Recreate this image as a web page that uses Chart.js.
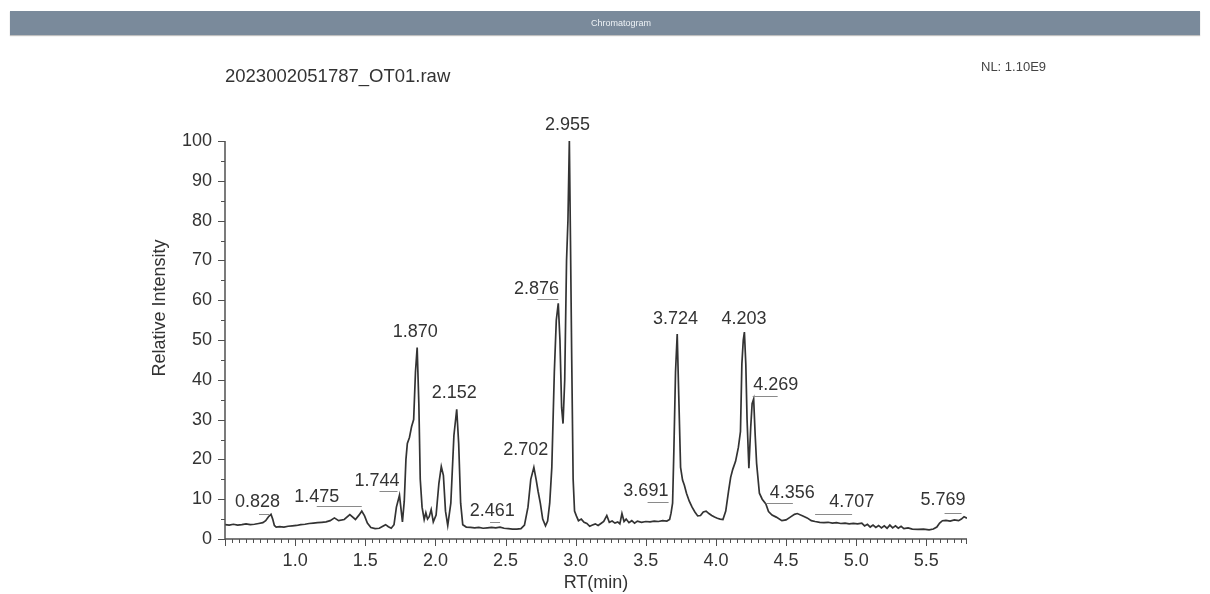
<!DOCTYPE html>
<html>
<head>
<meta charset="utf-8">
<script src="https://cdn.jsdelivr.net/npm/chart.js@4.4.1/dist/chart.umd.min.js"></script>
<style>
  html, body { margin: 0; padding: 0; background: #fff; width: 1210px; height: 594px; overflow: hidden;
               font-family: "Liberation Sans", Arial, sans-serif; }
  #bar { position: absolute; left: 10px; top: 11px; width: 1190px; height: 24px; background: #7a8a9b;
         color: #eef2f6; font-size: 9px; line-height: 24px; text-align: center; box-sizing: border-box;
         padding-left: 32px; box-shadow: 0 1px 1px rgba(0,0,0,0.25); z-index: 2; }
  #c { position: absolute; left: 0; top: 0; }
</style>
</head>
<body>
<div id="bar">Chromatogram</div>
<canvas id="c" width="1210" height="594"></canvas>
<script>
// Total ion chromatogram: retention time (min) vs relative intensity (%)
const retentionTime = [
  0.50, 0.53, 0.56, 0.59, 0.62, 0.65, 0.68, 0.71, 0.74, 0.77, 0.79, 0.81, 0.828, 0.84, 0.852, 0.865,
  0.89, 0.92, 0.95, 0.98, 1.01, 1.04, 1.07, 1.10, 1.13, 1.16, 1.19, 1.22, 1.25, 1.28, 1.31, 1.35,
  1.39, 1.43, 1.455, 1.475, 1.495, 1.515, 1.54, 1.57, 1.60, 1.625, 1.645, 1.665, 1.685, 1.705, 1.722, 1.744,
  1.755, 1.765, 1.778, 1.79, 1.80, 1.815, 1.83, 1.845, 1.858, 1.870, 1.882, 1.892, 1.905, 1.92, 1.932, 1.944,
  1.956, 1.97, 1.985, 2.005, 2.025, 2.042, 2.057, 2.072, 2.088, 2.11, 2.132, 2.152, 2.166, 2.18, 2.195, 2.22,
  2.25, 2.28, 2.31, 2.34, 2.37, 2.40, 2.43, 2.461, 2.49, 2.52, 2.55, 2.58, 2.61, 2.635, 2.66, 2.68,
  2.702, 2.718, 2.732, 2.748, 2.765, 2.785, 2.80, 2.815, 2.83, 2.848, 2.862, 2.876, 2.888, 2.90, 2.91, 2.922,
  2.935, 2.945, 2.955, 2.963, 2.972, 2.982, 2.992, 3.005, 3.02, 3.04, 3.06, 3.08, 3.10, 3.12, 3.14, 3.16,
  3.18, 3.20, 3.222, 3.24, 3.26, 3.28, 3.30, 3.315, 3.33, 3.345, 3.36, 3.38, 3.40, 3.42, 3.44, 3.47,
  3.50, 3.53, 3.56, 3.59, 3.62, 3.65, 3.67, 3.68, 3.691, 3.70, 3.712, 3.724, 3.735, 3.748, 3.762, 3.775,
  3.79, 3.81, 3.83, 3.85, 3.87, 3.89, 3.91, 3.93, 3.95, 3.97, 3.99, 4.01, 4.03, 4.05, 4.07, 4.09,
  4.105, 4.12, 4.14, 4.16, 4.175, 4.185, 4.195, 4.203, 4.213, 4.222, 4.235, 4.248, 4.258, 4.269, 4.28, 4.29,
  4.31, 4.33, 4.356, 4.375, 4.40, 4.43, 4.47, 4.50, 4.53, 4.56, 4.58, 4.62, 4.65, 4.68, 4.707, 4.74,
  4.77, 4.80, 4.83, 4.86, 4.89, 4.92, 4.95, 4.98, 5.01, 5.04, 5.06, 5.08, 5.10, 5.12, 5.14, 5.16,
  5.18, 5.20, 5.22, 5.24, 5.26, 5.28, 5.30, 5.32, 5.34, 5.37, 5.40, 5.44, 5.48, 5.52, 5.55, 5.575,
  5.595, 5.615, 5.64, 5.67, 5.70, 5.73, 5.75, 5.769, 5.79
];
const relativeIntensity = [
  3.6, 3.5, 3.7, 3.5, 3.6, 3.8, 3.6, 3.7, 3.9, 4.1, 4.6, 5.6, 6.2, 5.0, 3.4, 3.0,
  3.1, 3.0, 3.2, 3.3, 3.4, 3.6, 3.7, 3.9, 4.0, 4.1, 4.2, 4.3, 4.6, 5.3, 4.6, 4.9,
  6.1, 4.9, 6.0, 7.0, 5.8, 4.0, 2.9, 2.6, 2.7, 3.2, 3.6, 3.1, 2.7, 3.6, 8.0, 11.0,
  7.5, 4.3, 9.5, 20, 24, 25.5, 28.2, 30, 42, 48.1, 34, 15, 8, 4.9, 6.6, 5.0,
  5.6, 7.4, 4.3, 6.0, 14, 18.2, 16, 7, 3.4, 9, 26, 32.6, 24, 9, 3.6, 3.0,
  2.9, 2.8, 2.9, 2.7, 2.8, 2.9, 2.8, 3.0, 2.7, 2.6, 2.5, 2.5, 2.6, 3.5, 8, 15,
  18, 15, 12, 9, 5, 3.3, 4.5, 9, 18, 42, 55, 59.2, 50, 33, 29, 40,
  70, 80, 100, 75, 45, 15, 7, 5.8, 4.6, 5.0, 4.2, 3.9, 3.2, 3.5, 3.8, 3.4,
  3.9, 4.4, 5.9, 4.2, 4.5, 4.0, 4.3, 3.8, 6.4, 4.4, 5.0, 4.1, 4.6, 4.0, 4.5, 4.2,
  4.4, 4.3, 4.5, 4.4, 4.6, 4.5, 4.9, 6.5, 9.0, 22, 42, 51.5, 36, 18, 14.8, 13.5,
  11.5, 9.5, 8.0, 6.8, 5.8, 5.9, 6.8, 7.0, 6.4, 5.9, 5.5, 5.2, 5.0, 4.9, 7, 12,
  15.5, 17.5, 19.5, 23, 27, 44, 50, 52, 44, 30, 17.8, 28, 34, 35.2, 26, 19,
  11.5, 10, 8.8, 6.9, 6.0, 5.5, 4.6, 4.8, 5.5, 6.2, 6.4, 5.8, 5.3, 4.6, 4.4, 4.2,
  4.1, 4.2, 4.0, 4.1, 3.9, 4.0, 3.8, 3.9, 3.8, 4.0, 3.3, 3.7, 3.0, 3.5, 2.9, 3.4,
  2.8, 3.3, 2.7, 3.5, 2.8, 3.3, 2.7, 3.2, 2.6, 2.8, 2.5, 2.4, 2.5, 2.3, 2.5, 3.0,
  4.0, 4.6, 4.7, 4.5, 4.8, 4.6, 5.0, 5.6, 5.2
];
// Annotated peak apex retention times
const peakRT = [0.828, 1.475, 1.744, 1.870, 2.152, 2.461, 2.702, 2.876, 2.955,
                3.691, 3.724, 4.203, 4.269, 4.356, 4.707, 5.769];

const fileName = '2023002051787_OT01.raw';
const normLevel = 'NL: 1.10E9';
const xTitle = 'RT(min)';
const yTitle = 'Relative Intensity';

// Label placement (pixel offsets from each apex) and leader-line segments
const labelOffset = [[-13.5,-11.8],[-45,-14.6],[-22.5,-14.2],[-2,-16],[-2.5,-16],[-7.7,-15.6],[-8,-17],[-21.8,-13.9],
                     [-1.8,-15.5],[-26.7,-11.7],[-1.8,-15],[-0.3,-13],[22,-13.9],[26.3,-10.5],[36.7,-19],[-21,-16.2]];
const leaderLine = [[-12,-2,-0.3],[-45,0,-5],[-20,-2,-4.2],null,null,[-10,0,-5],null,[-21,0,-4.4],
                    null,[-25,-4,-1.2],null,null,[-1,24,-2.9],[0,27,-1],[0,37,-7.5],[-19.5,-2.5,-3.7]];

const FONT = '"Liberation Sans", Arial, sans-serif';
const INK = '#333';

const points = retentionTime.map((t, i) => ({ x: t, y: relativeIntensity[i] }));

const decorations = {
  id: 'decorations',
  afterDatasetsDraw(chart) {
    const ctx = chart.ctx;
    const xs = chart.scales.x, ys = chart.scales.y;
    const left = xs.left, right = xs.right, bottom = ys.bottom, top = ys.top;
    ctx.save();

    // axes
    ctx.strokeStyle = '#505050';
    ctx.lineWidth = 1.5;
    ctx.beginPath();
    ctx.moveTo(left, top);
    ctx.lineTo(left, bottom);
    ctx.lineTo(right, bottom);
    ctx.stroke();

    // tick marks
    ctx.lineWidth = 1;
    ctx.beginPath();
    for (let v = 0; v <= 100; v += 5) {
      const y = Math.round(ys.getPixelForValue(v)) + 0.5;
      const len = v % 10 === 0 ? 7 : 4;
      ctx.moveTo(left - len, y);
      ctx.lineTo(left, y);
    }
    for (let k = 10; k * 0.05 <= xs.max + 1e-9; k++) {
      const x = Math.round(xs.getPixelForValue(k * 0.05)) + 0.5;
      const len = k % 10 === 0 ? 7 : 4;
      ctx.moveTo(x, bottom);
      ctx.lineTo(x, bottom + len);
    }
    const xe = Math.round(xs.getPixelForValue(xs.max)) - 0.5;
    ctx.moveTo(xe, bottom);
    ctx.lineTo(xe, bottom + 5);
    ctx.stroke();

    // peak labels
    ctx.font = '18px ' + FONT;
    ctx.fillStyle = INK;
    ctx.textAlign = 'center';
    ctx.textBaseline = 'middle';
    peakRT.forEach((rt, i) => {
      const idx = retentionTime.indexOf(rt);
      const px = xs.getPixelForValue(rt);
      const py = ys.getPixelForValue(relativeIntensity[idx]);
      const [dx, dy] = labelOffset[i];
      ctx.fillText(rt.toFixed(3), px + dx, py + dy);
      const ld = leaderLine[i];
      if (ld) {
        ctx.strokeStyle = '#8a8a8a';
        ctx.lineWidth = 1;
        ctx.beginPath();
        ctx.moveTo(px + ld[0], Math.round(py + ld[2]) + 0.5);
        ctx.lineTo(px + ld[1], Math.round(py + ld[2]) + 0.5);
        ctx.stroke();
      }
    });

    // titles
    ctx.textAlign = 'left';
    ctx.font = '18.5px ' + FONT;
    ctx.fillText(fileName, 225, 77);
    ctx.font = '13px ' + FONT;
    ctx.fillStyle = '#444';
    ctx.fillText(normLevel, 981, 67);
    ctx.fillStyle = INK;
    ctx.font = '18px ' + FONT;
    ctx.textAlign = 'center';
    ctx.fillText(xTitle, (left + right) / 2, 583);
    ctx.translate(160, 308);
    ctx.rotate(-Math.PI / 2);
    ctx.fillText(yTitle, 0, 0);
    ctx.restore();
  }
};

new Chart(document.getElementById('c'), {
  type: 'line',
  data: {
    datasets: [{
      data: points,
      borderColor: '#333',
      borderWidth: 1.7,
      pointRadius: 0,
      tension: 0,
      fill: false
    }]
  },
  options: {
    responsive: false,
    devicePixelRatio: 1,
    animation: false,
    events: [],
    layout: { padding: { top: 141, right: 243, bottom: 0, left: 0 } },
    plugins: { legend: { display: false }, tooltip: { enabled: false }, title: { display: false } },
    scales: {
      x: {
        type: 'linear',
        min: 0.5,
        max: 5.79,
        grid: { display: false, drawTicks: false },
        border: { display: false },
        afterFit(scale) { scale.height = 55; },
        ticks: {
          stepSize: 0.5,
          includeBounds: false,
          autoSkip: false,
          maxRotation: 0,
          padding: 11,
          color: INK,
          font: { family: FONT, size: 18 },
          callback(v) {
            const half = Math.abs(v * 2 - Math.round(v * 2)) < 1e-6;
            return (half && v >= 0.99 && v <= 5.51) ? v.toFixed(1) : '';
          }
        }
      },
      y: {
        min: 0,
        max: 100,
        grid: { display: false, drawTicks: false },
        border: { display: false },
        afterFit(scale) { scale.width = 225; },
        ticks: {
          stepSize: 10,
          padding: 13,
          color: INK,
          font: { family: FONT, size: 18 }
        }
      }
    }
  },
  plugins: [decorations]
});
</script>
</body>
</html>
